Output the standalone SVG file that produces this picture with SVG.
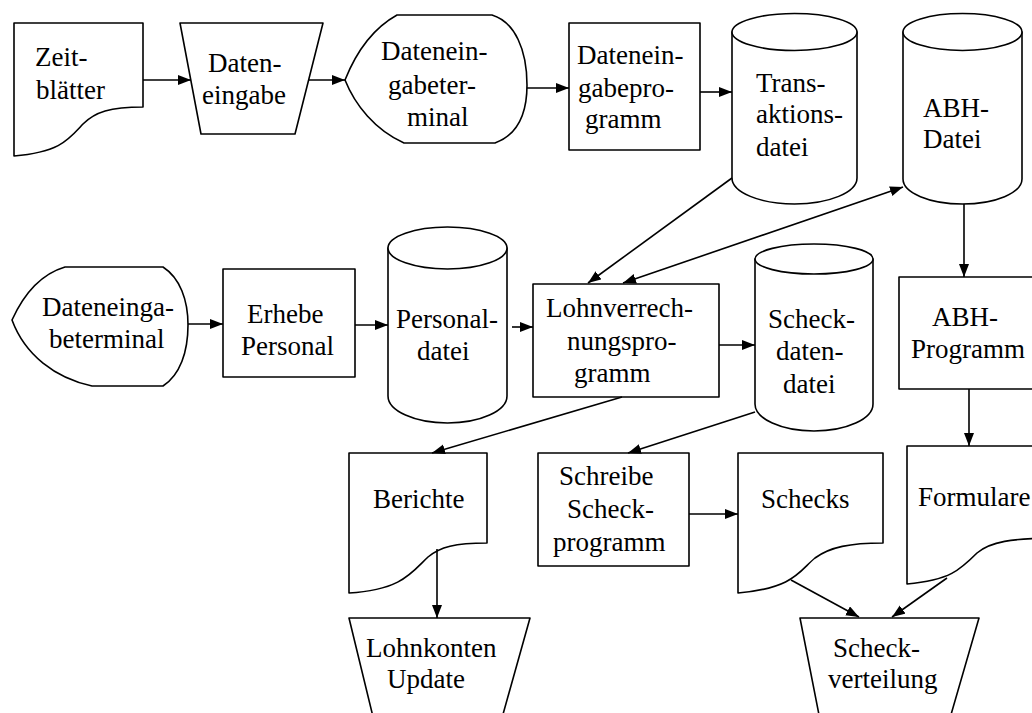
<svg xmlns="http://www.w3.org/2000/svg" width="1032" height="713" viewBox="0 0 1032 713">
  <style>
    .shape { fill: #ffffff; stroke: #000000; stroke-width: 1.6; stroke-linejoin: round; }
    .lbl { font-family: "Liberation Serif", "Times New Roman", serif; font-size: 27px; fill: #000000; }
    .conn { fill: none; stroke: #000000; stroke-width: 1.6; }
  </style>
  <defs>
    <marker id="arrow" markerWidth="14" markerHeight="11" refX="13" refY="5" orient="auto-start-reverse" markerUnits="userSpaceOnUse">
      <path d="M0,0 L13,5 L0,10 Z" fill="#000000"/>
    </marker>
  </defs>
  <rect x="0" y="0" width="1032" height="713" fill="#ffffff"/>

  <!-- Nodes -->
  <g id="zeitblaetter">
    <path class="shape" d="M14,23 H143 V107 C110,107 95,112 83,124 C68,140 60,152 14,156 Z"/>
    <text class="lbl" x="35" y="66">Zeit-</text>
    <text class="lbl" x="36" y="99">blätter</text>
  </g>

  <g id="dateneingabe">
    <path class="shape" d="M180,23 H323 L295,134 H201 Z"/>
    <text class="lbl" x="208" y="72">Daten-</text>
    <text class="lbl" x="202" y="104">eingabe</text>
  </g>

  <g id="terminal1">
    <path class="shape" d="M345,80 C355,55 370,30 397,15 H492 C515,22 527,50 527,85 C527,115 517,135 495,143 H404 C375,130 355,105 345,80 Z"/>
    <text class="lbl" x="381" y="60">Datenein-</text>
    <text class="lbl" x="388" y="94">gabeter-</text>
    <text class="lbl" x="407" y="126">minal</text>
  </g>

  <g id="eingabeprogramm">
    <rect class="shape" x="569" y="23" width="131" height="127"/>
    <text class="lbl" x="577" y="64">Datenein-</text>
    <text class="lbl" x="578" y="97">gabepro-</text>
    <text class="lbl" x="585" y="128">gramm</text>
  </g>

  <g id="transaktionsdatei">
    <path class="shape" d="M732,32 V178 A62.5,26 0 0 0 857,178 V32 Z"/>
    <ellipse class="shape" cx="794.5" cy="32" rx="62.5" ry="18.5"/>
    <text class="lbl" x="756" y="92">Trans-</text>
    <text class="lbl" x="756" y="123">aktions-</text>
    <text class="lbl" x="756" y="156">datei</text>
  </g>

  <g id="abh-datei">
    <path class="shape" d="M903,32 V179 A59.5,25 0 0 0 1022,179 V32 Z"/>
    <ellipse class="shape" cx="962.5" cy="32" rx="59.5" ry="18.5"/>
    <text class="lbl" x="923" y="117">ABH-</text>
    <text class="lbl" x="923" y="148">Datei</text>
  </g>

  <g id="terminal2">
    <path class="shape" d="M12,320 C22,298 38,275 65,267 H163 C180,278 188,300 188,325 C188,352 180,375 163,386 H92 C55,378 25,355 12,320 Z"/>
    <text class="lbl" x="42" y="316">Dateneinga-</text>
    <text class="lbl" x="49" y="348">beterminal</text>
  </g>

  <g id="erhebe-personal">
    <rect class="shape" x="223" y="269" width="132" height="108"/>
    <text class="lbl" x="247" y="323">Erhebe</text>
    <text class="lbl" x="241" y="355">Personal</text>
  </g>

  <g id="personaldatei">
    <path class="shape" d="M388,248 V396 A59.5,27 0 0 0 507,396 V248 Z"/>
    <ellipse class="shape" cx="447.5" cy="248" rx="59.5" ry="21"/>
    <text class="lbl" x="396" y="328">Personal-</text>
    <text class="lbl" x="417" y="360">datei</text>
  </g>

  <g id="lohnverrechnung">
    <rect class="shape" x="533" y="284" width="186" height="113"/>
    <text class="lbl" x="546" y="317">Lohnverrech-</text>
    <text class="lbl" x="567" y="350">nungspro-</text>
    <text class="lbl" x="574" y="382">gramm</text>
  </g>

  <g id="scheckdatendatei">
    <path class="shape" d="M755,259 V404 A59,27 0 0 0 873,404 V259 Z"/>
    <ellipse class="shape" cx="814" cy="259" rx="59" ry="15"/>
    <text class="lbl" x="768" y="328">Scheck-</text>
    <text class="lbl" x="776" y="360">daten-</text>
    <text class="lbl" x="783" y="393">datei</text>
  </g>

  <g id="abh-programm">
    <rect class="shape" x="899" y="277" width="160" height="112"/>
    <text class="lbl" x="932" y="326">ABH-</text>
    <text class="lbl" x="911" y="358">Programm</text>
  </g>

  <g id="berichte">
    <path class="shape" d="M349,453 H487 V543 C455,543 440,547 428,557 C412,572 402,590 349,593 Z"/>
    <text class="lbl" x="373" y="508">Berichte</text>
  </g>

  <g id="schreibe-scheckprogramm">
    <rect class="shape" x="538" y="453" width="151" height="113"/>
    <text class="lbl" x="559" y="485">Schreibe</text>
    <text class="lbl" x="567" y="518">Scheck-</text>
    <text class="lbl" x="553" y="551">programm</text>
  </g>

  <g id="schecks">
    <path class="shape" d="M738,453 H883 V543 C850,543 830,547 815,558 C800,570 795,588 738,593 Z"/>
    <text class="lbl" x="761" y="508">Schecks</text>
  </g>

  <g id="formulare">
    <path class="shape" d="M907,446 H1060 V538 C1010,538 990,542 977,553 C960,570 950,580 907,584 Z"/>
    <text class="lbl" x="918" y="506">Formulare</text>
  </g>

  <g id="lohnkonten-update">
    <path class="shape" d="M349,618 H530 L500,725 H375 Z"/>
    <text class="lbl" x="366" y="657">Lohnkonten</text>
    <text class="lbl" x="387" y="688">Update</text>
  </g>

  <g id="scheckverteilung">
    <path class="shape" d="M800,618 H979 L948,725 H821 Z"/>
    <text class="lbl" x="833" y="657">Scheck-</text>
    <text class="lbl" x="828" y="688">verteilung</text>
  </g>

  <!-- Connectors -->
  <g id="connectors">
    <path class="conn" d="M143,80 L191,80" marker-end="url(#arrow)"/>
    <path class="conn" d="M309,80 L345,80" marker-end="url(#arrow)"/>
    <path class="conn" d="M527,88 L569,88" marker-end="url(#arrow)"/>
    <path class="conn" d="M700,92 L732,92" marker-end="url(#arrow)"/>
    <path class="conn" d="M732,178 L588,283" marker-end="url(#arrow)"/>
    <path class="conn" d="M623,283 L903,187" marker-start="url(#arrow)" marker-end="url(#arrow)"/>
    <path class="conn" d="M964,204 L964,277" marker-end="url(#arrow)"/>
    <path class="conn" d="M188,324 L223,324" marker-end="url(#arrow)"/>
    <path class="conn" d="M355,325 L388,325" marker-end="url(#arrow)"/>
    <path class="conn" d="M512,327 L533,327" marker-end="url(#arrow)"/>
    <path class="conn" d="M719,345 L755,345" marker-end="url(#arrow)"/>
    <path class="conn" d="M622,397 L432,453" marker-end="url(#arrow)"/>
    <path class="conn" d="M755,412 L628,453" marker-end="url(#arrow)"/>
    <path class="conn" d="M437,549 L437,618" marker-end="url(#arrow)"/>
    <path class="conn" d="M689,514 L738,514" marker-end="url(#arrow)"/>
    <path class="conn" d="M969,389 L969,446" marker-end="url(#arrow)"/>
    <path class="conn" d="M791,580 L859,617" marker-end="url(#arrow)"/>
    <path class="conn" d="M947,578 L892,617" marker-end="url(#arrow)"/>
  </g>
</svg>
